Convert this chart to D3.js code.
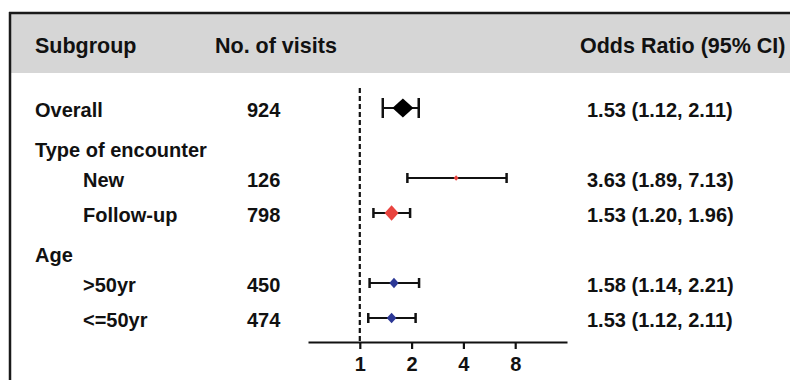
<!DOCTYPE html>
<html>
<head>
<meta charset="utf-8">
<script src="https://cdn.jsdelivr.net/npm/d3@7/dist/d3.min.js"></script>
<style>
  body { margin: 0; background: #fff; }
  text { font-family: "Liberation Sans", Arial, Helvetica, sans-serif; font-weight: bold; fill: #111; }
</style>
</head>
<body>
<div id="canvas"></div>
<script>
// rows of the forest plot
var rowLabels = ['Overall', 'Type of encounter', 'New', 'Follow-up', 'Age', '>50yr', '<=50yr'];
var rowKind   = ['summary', 'group', 'new', 'followup', 'group', 'age', 'age'];
var visits    = [924, null, 126, 798, null, 450, 474];

// reported odds ratios (right hand column)
var orText  = [1.53, null, 3.63, 1.53, null, 1.58, 1.53];
var loText  = [1.12, null, 1.89, 1.20, null, 1.14, 1.12];
var hiText  = [2.11, null, 7.13, 1.96, null, 2.21, 2.11];

// where the marks sit on the log axis, as drawn
var orMark  = [1.78, null, 3.63, 1.53, null, 1.58, 1.53];
var loMark  = [1.36, null, 1.89, 1.20, null, 1.14, 1.12];
var hiMark  = [2.20, null, 7.13, 1.96, null, 2.21, 2.11];

var tickVals = [1, 2, 4, 8];
var headers = ['Subgroup', 'No. of visits', 'Odds Ratio (95% CI)'];

var W = 790, H = 380;
var svg = d3.select('#canvas').append('svg')
    .attr('width', W).attr('height', H);

// header band + frame
svg.append('rect').attr('x', 10).attr('y', 13).attr('width', W - 10).attr('height', 60)
    .attr('fill', '#d6d6d6');
svg.append('line').attr('x1', 9).attr('x2', W).attr('y1', 13).attr('y2', 13)
    .attr('stroke', '#1a1a1a').attr('stroke-width', 2.5);
svg.append('line').attr('x1', 10).attr('x2', 10).attr('y1', 12).attr('y2', H)
    .attr('stroke', '#1a1a1a').attr('stroke-width', 2.5);

var headX = [35, 215, 580];
svg.selectAll('.head').data(headers).enter().append('text')
    .attr('class', 'head')
    .attr('x', function(d, i) { return headX[i]; })
    .attr('y', 53)
    .style('font-size', '21.5px')
    .text(function(d) { return d; });

// scales
var x = d3.scaleLog().base(2).domain([0.5, 16]).range([308, 567]);
var y = d3.scalePoint().domain(d3.range(rowLabels.length)).range([108, 318]);

var colors = { summary: '#000', new: '#e9443f', followup: '#e9443f', age: '#2c3896' };
var sizeScale = d3.scaleLinear().domain([126, 798]).range([2.5, 7]);

var rows = rowLabels.map(function(d, i) {
  return { label: d, kind: rowKind[i], n: visits[i], i: i,
           or: orText[i], lo: loText[i], hi: hiText[i],
           m: orMark[i], ml: loMark[i], mh: hiMark[i] };
});

// left labels
svg.selectAll('.lab').data(rows).enter().append('text')
    .attr('class', 'lab')
    .attr('x', function(d) { return (d.kind === 'summary' || d.kind === 'group') ? 35 : 83; })
    .attr('y', function(d) { return y(d.i) + (d.kind === 'group' ? 14 : 9); })
    .style('font-size', '20px')
    .text(function(d) { return d.label; });

// visit counts
var dataRows = rows.filter(function(d) { return d.n !== null; });
svg.selectAll('.num').data(dataRows).enter().append('text')
    .attr('class', 'num')
    .attr('x', 247)
    .attr('y', function(d) { return y(d.i) + 9; })
    .style('font-size', '20px')
    .text(function(d) { return d.n; });

// OR text
svg.selectAll('.ortxt').data(dataRows).enter().append('text')
    .attr('class', 'ortxt')
    .attr('x', 587)
    .attr('y', function(d) { return y(d.i) + 9; })
    .style('font-size', '20px')
    .text(function(d) {
      return d.or.toFixed(2) + ' (' + d.lo.toFixed(2) + ', ' + d.hi.toFixed(2) + ')';
    });

// reference line at OR = 1
svg.append('line')
    .attr('x1', x(1)).attr('x2', x(1))
    .attr('y1', 88).attr('y2', 342)
    .attr('stroke', '#111').attr('stroke-width', 2.2)
    .attr('stroke-dasharray', '5,3');

// axis
var axis = d3.axisBottom(x).tickValues(tickVals).tickFormat(d3.format('d'))
    .tickSize(7).tickSizeOuter(0).tickPadding(8);
var gAx = svg.append('g').attr('transform', 'translate(0,342)').call(axis);
gAx.select('.domain').attr('stroke', '#111').attr('stroke-width', 2);
gAx.selectAll('.tick line').attr('stroke', '#111').attr('stroke-width', 2.2);
gAx.selectAll('.tick text').style('font-size', '20px').style('font-weight', 'bold')
    .style('font-family', '"Liberation Sans", Arial, sans-serif').attr('fill', '#111');

// CI whiskers
var ci = svg.selectAll('.ci').data(dataRows).enter().append('g').attr('class', 'ci');
ci.append('line')
    .attr('x1', function(d) { return x(d.ml); })
    .attr('x2', function(d) { return x(d.mh); })
    .attr('y1', function(d) { return y(d.i); })
    .attr('y2', function(d) { return y(d.i); })
    .attr('stroke', '#111').attr('stroke-width', 2);
[ 'ml', 'mh' ].forEach(function(k) {
  ci.append('line')
      .attr('x1', function(d) { return x(d[k]); })
      .attr('x2', function(d) { return x(d[k]); })
      .attr('y1', function(d) { return y(d.i) - (d.kind === 'summary' ? 10 : 5); })
      .attr('y2', function(d) { return y(d.i) + (d.kind === 'summary' ? 10 : 5); })
      .attr('stroke', '#111').attr('stroke-width', 2.5);
});

// diamonds
ci.append('path')
    .attr('d', function(d) {
      var cx = x(d.m), cy = y(d.i);
      var hw = d.kind === 'summary' ? 10.5 : sizeScale(d.n);
      var hh = d.kind === 'summary' ? 9.5 : sizeScale(d.n) * 1.1;
      return 'M' + (cx - hw) + ',' + cy + 'L' + cx + ',' + (cy - hh) +
             'L' + (cx + hw) + ',' + cy + 'L' + cx + ',' + (cy + hh) + 'Z';
    })
    .attr('fill', function(d) { return colors[d.kind]; });
</script>
</body>
</html>
